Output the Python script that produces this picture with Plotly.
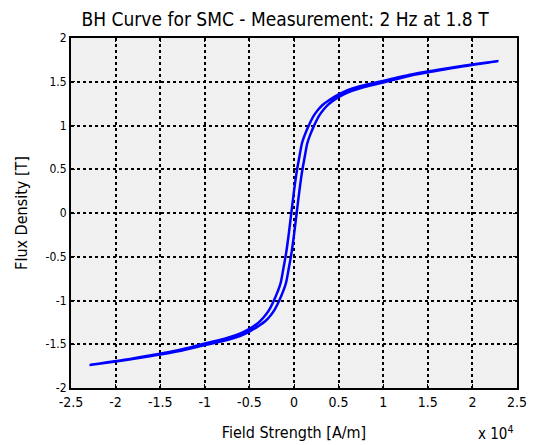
import plotly.graph_objects as go

# Descending branch (from +saturation to -saturation), H in A/m, B in T
H_desc = [22800, 19000, 16000, 13000, 10000, 7500, 6000, 5000, 4000, 3200, 2700, 2200, 1700,
          1200, 900, 600, 300, 0, -300, -600, -900, -1200, -1500, -1800, -2300, -2800, -3300,
          -3800, -4300, -5000, -6000, -7500, -10000, -13000, -16000, -19000, -22800]
B_desc = [1.735, 1.682, 1.634, 1.581, 1.508, 1.451, 1.403, 1.355, 1.293, 1.235, 1.18, 1.11, 1.01,
          0.89, 0.80, 0.64, 0.47, 0.25, 0.0, -0.25, -0.47, -0.64, -0.80, -0.89, -1.01, -1.11, -1.18,
          -1.235, -1.278, -1.325, -1.377, -1.429, -1.492, -1.569, -1.626, -1.678, -1.735]
# Ascending branch (from -saturation to +saturation)
H_asc = [-22800, -19000, -16000, -13000, -10000, -7500, -6000, -5000, -4000, -3200, -2700, -2200, -1700,
         -1200, -900, -600, -300, 0, 300, 600, 900, 1200, 1500, 1800, 2300, 2800, 3300,
         3800, 4300, 5000, 6000, 7500, 10000, 13000, 16000, 19000, 22800]
B_asc = [-1.735, -1.682, -1.634, -1.581, -1.508, -1.451, -1.403, -1.355, -1.293, -1.235, -1.18, -1.11, -1.01,
         -0.89, -0.80, -0.64, -0.47, -0.25, 0.0, 0.25, 0.47, 0.64, 0.80, 0.89, 1.01, 1.11, 1.18,
         1.235, 1.278, 1.325, 1.377, 1.429, 1.492, 1.569, 1.626, 1.678, 1.735]

x_tick_vals = [-25000, -20000, -15000, -10000, -5000, 0, 5000, 10000, 15000, 20000, 25000]
x_tick_text = ["-2.5", "-2", "-1.5", "-1", "-0.5", "0", "0.5", "1", "1.5", "2", "2.5"]
y_tick_vals = [-2, -1.5, -1, -0.5, 0, 0.5, 1, 1.5, 2]
y_tick_text = ["-2", "-1.5", "-1", "-0.5", "0", "0.5", "1", "1.5", "2"]

FONT = "DejaVu Sans Condensed, Liberation Sans Narrow, Arial Narrow, Liberation Sans, sans-serif"

fig = go.Figure()
fig.add_trace(go.Scatter(x=H_desc + H_asc[1:], y=B_desc + B_asc[1:], mode="lines",
                         line=dict(color="#0000ff", width=2.5, shape="spline", smoothing=1.0),
                         showlegend=False, hoverinfo="skip"))

axis_common = dict(showline=True, linecolor="black", linewidth=2, mirror="ticks",
                   ticks="inside", ticklen=4, tickcolor="black", tickwidth=1,
                   showgrid=True, gridcolor="black", gridwidth=1.5, griddash="3px,3px",
                   zeroline=False, automargin=False)

fig.update_layout(
    width=527, height=437,
    margin=dict(l=63, r=18, t=30, b=57),
    paper_bgcolor="white", plot_bgcolor="#f0f0f0",
    font=dict(family=FONT, color="black"),
    title=dict(text="BH Curve for SMC - Measurement: 2 Hz at 1.8 T", xref="paper", x=0.48,
               xanchor="center", y=0.975, yanchor="middle", font=dict(size=19, family=FONT)),
    xaxis=dict(range=[-25000, 25000], tickvals=x_tick_vals, ticktext=x_tick_text,
               tickfont=dict(size=14), title=dict(text="Field Strength [A/m]", font=dict(size=16), standoff=18),
               **axis_common),
    yaxis=dict(range=[-2, 2], tickvals=y_tick_vals, ticktext=y_tick_text,
               tickfont=dict(size=12), title=dict(text="Flux Density [T]", font=dict(size=16), standoff=14),
               **axis_common),
    annotations=[dict(text="x 10<sup>4</sup>", xref="paper", yref="paper", x=0.9955, y=-0.13,
                      xanchor="right", yanchor="middle", showarrow=False, font=dict(size=15, family=FONT))],
)

fig.write_html("out.html")
